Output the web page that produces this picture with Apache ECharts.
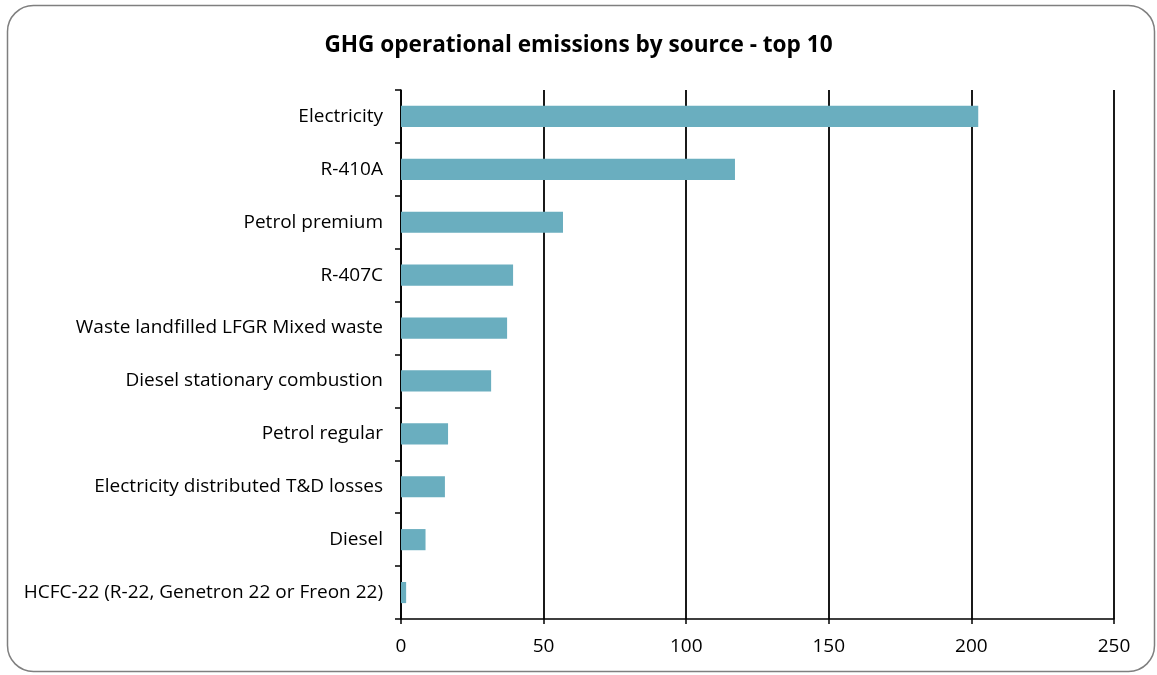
<!DOCTYPE html>
<html><head><meta charset="utf-8">
<script src="https://cdn.jsdelivr.net/npm/echarts@6/dist/echarts.min.js"></script>
<style>html,body{margin:0;padding:0;background:#fff}#c{width:1157px;height:675px}</style>
</head><body><div id="c"></div>
<script>
const categories = ["Electricity","R-410A","Petrol premium","R-407C","Waste landfilled LFGR Mixed waste","Diesel stationary combustion","Petrol regular","Electricity distributed T&D losses","Diesel","HCFC-22 (R-22, Genetron 22 or Freon 22)"];
const values = [202.4, 117.1, 56.8, 39.3, 37.2, 31.6, 16.5, 15.4, 8.6, 1.8];
const xTicks = [0, 50, 100, 150, 200, 250];
const chart = echarts.init(document.getElementById('c'));
const FONT = '"Open Sans", "Liberation Sans", sans-serif';
chart.setOption({
  animation: false,
  title: {text: 'GHG operational emissions by source - top 10', left: 'center', top: 29,
    textStyle: {fontFamily: FONT, fontWeight: 'bold', fontSize: 22.6, color: '#000'}},
  graphic: [{type: 'rect', shape: {x: 7.5, y: 5.5, width: 1147, height: 666, r: 26},
    style: {fill: 'none', stroke: '#7f7f7f', lineWidth: 1.5}, z: -1}],
  grid: {left: 401, right: 43, top: 90, bottom: 56},
  xAxis: {type: 'value', min: xTicks[0], max: xTicks[xTicks.length-1], interval: 50,
    axisLine: {show: true, lineStyle: {color: '#000', width: 1.5}},
    axisTick: {show: true, length: 5, lineStyle: {color: '#000', width: 1.5}},
    splitLine: {show: true, lineStyle: {color: '#000', width: 1.8}},
    axisLabel: {fontFamily: FONT, fontSize: 19, color: '#000', margin: 18}},
  yAxis: {type: 'category', data: categories, inverse: true,
    axisLine: {show: true, lineStyle: {color: '#000', width: 1.5}},
    axisTick: {show: true, length: 6, lineStyle: {color: '#000', width: 1.5}},
    axisLabel: {fontFamily: FONT, fontSize: 19, color: '#000', margin: 18}},
  series: [{type: 'bar', data: values, barWidth: '40%', itemStyle: {color: '#6aaebf'}}]
});
</script></body></html>
